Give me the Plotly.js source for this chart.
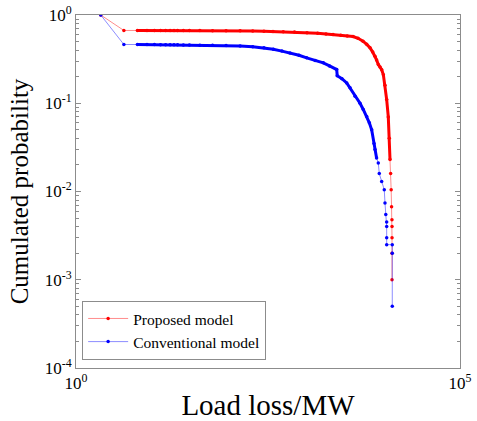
<!DOCTYPE html>
<html>
<head>
<meta charset="utf-8">
<script src="https://cdn.plot.ly/plotly-3.0.1.min.js"></script>
<style>html,body{margin:0;padding:0;background:#fff;}#chart{width:477px;height:421px;}</style>
</head>
<body>
<div id="chart"></div>
<script>
// Load loss (MW) and cumulated probability
const proposedLoss = [2.1, 4.2, 6.3, 8.4, 10.5, 12.6, 14.7, 16.8, 18.9, 21, 25, 30, 41, 60, 90, 137, 200, 280, 367, 500, 700, 1018, 1400, 1800, 2220, 2800, 3400, 4050, 4700, 5460, 6100, 6730, 7300, 7820, 8200, 8640, 9100, 9560, 10050, 10550, 11100, 11650, 12000, 12270, 12500, 12700, 12850, 13000, 13030, 13030, 13030, 13030];
const proposedProb = [1, 0.668, 0.668, 0.668, 0.668, 0.668, 0.668, 0.668, 0.667, 0.667, 0.667, 0.666, 0.666, 0.665, 0.664, 0.663, 0.66, 0.655, 0.65, 0.645, 0.64, 0.63, 0.62, 0.61, 0.6, 0.59, 0.58, 0.57, 0.545, 0.505, 0.465, 0.425, 0.38, 0.34, 0.31, 0.275, 0.258, 0.24, 0.21, 0.16, 0.11, 0.07, 0.04, 0.023, 0.016, 0.0105, 0.0067, 0.0048, 0.004, 0.003, 0.002, 0.001];
const conventionalLoss = [2.1, 4.2, 6.3, 8.4, 10.5, 12.6, 14.7, 16.8, 18.9, 21, 25, 30, 41, 60, 90, 137, 200, 280, 371, 480, 611, 800, 1009, 1300, 1660, 2000, 2480, 2520, 2900, 3350, 3700, 4300, 4990, 5500, 6100, 6600, 7080, 7590, 7820, 8200, 8630, 8890, 9550, 10330, 10550, 10800, 11100, 11100, 11100, 11100, 13130, 13130, 13130];
const conventionalProb = [1, 0.463, 0.463, 0.462, 0.462, 0.461, 0.461, 0.46, 0.46, 0.459, 0.458, 0.457, 0.455, 0.453, 0.45, 0.445, 0.437, 0.425, 0.41, 0.39, 0.372, 0.35, 0.327, 0.305, 0.287, 0.265, 0.241, 0.205, 0.19, 0.17, 0.15, 0.12, 0.1, 0.085, 0.071, 0.06, 0.05, 0.035, 0.03, 0.024, 0.021, 0.016, 0.013, 0.0105, 0.0074, 0.0055, 0.0045, 0.004, 0.003, 0.0025, 0.0025, 0.002, 0.0005];
const xTickVals = [1, 100000];
const xTickText = ['10<sup>0</sup>', '10<sup>5</sup>'];
const yTickVals = [1e-4, 1e-3, 1e-2, 1e-1, 1];
const yTickText = ['10<sup>-4</sup>', '10<sup>-3</sup>', '10<sup>-2</sup>', '10<sup>-1</sup>', '10<sup>0</sup>'];
const yMinorVals = [];
[1e-4, 1e-3, 1e-2, 1e-1].forEach(d => { for (let m = 2; m <= 9; m++) yMinorVals.push(m * d); });

const serif = "'Liberation Serif', 'Times New Roman', serif";
const red = '#ff0000', blue = '#0000ff';
const axisGray = '#8c8c8c';

const traces = [
  {x: proposedLoss, y: proposedProb, name: 'Proposed model', type: 'scatter', mode: 'lines+markers',
   line: {color: 'rgba(255,0,0,0.45)', width: 1}, marker: {color: red, size: 3.5}},
  {x: proposedLoss.slice(2, 44), y: proposedProb.slice(2, 44), showlegend: false, type: 'scatter', mode: 'lines',
   line: {color: red, width: 3}, hoverinfo: 'skip'},
  {x: conventionalLoss, y: conventionalProb, name: 'Conventional model', type: 'scatter', mode: 'lines+markers',
   line: {color: 'rgba(0,0,255,0.45)', width: 1}, marker: {color: blue, size: 3.5}},
  {x: conventionalLoss.slice(2, 40), y: conventionalProb.slice(2, 40), showlegend: false, type: 'scatter', mode: 'lines',
   line: {color: blue, width: 3}, hoverinfo: 'skip'}
];

const layout = {
  width: 477, height: 421,
  margin: {l: 76, r: 17, t: 15, b: 53},
  paper_bgcolor: '#fff', plot_bgcolor: '#fff',
  showlegend: true,
  xaxis: {
    type: 'log', range: [0, 5], showgrid: false, zeroline: false,
    showline: true, linecolor: axisGray, linewidth: 1, mirror: true,
    tickvals: xTickVals, ticktext: xTickText, ticks: '',
    tickfont: {family: serif, size: 17, color: '#000'},
    title: {text: 'Load loss/MW', font: {family: serif, size: 29, color: '#000'}, standoff: 6}
  },
  yaxis: {
    type: 'log', range: [-4, 0], showgrid: false, zeroline: false,
    showline: true, linecolor: axisGray, linewidth: 1, mirror: 'ticks',
    tickvals: yTickVals, ticktext: yTickText, ticks: 'inside', tickcolor: axisGray, ticklen: 5,
    minor: {tickmode: 'array', tickvals: yMinorVals, ticks: 'inside', ticklen: 3, tickcolor: axisGray, showgrid: false},
    tickfont: {family: serif, size: 17, color: '#000'},
    title: {text: 'Cumulated probability', font: {family: serif, size: 25, color: '#000'}, standoff: 8}
  },
  legend: {
    x: 0.016, y: 0.023, xanchor: 'left', yanchor: 'bottom',
    bgcolor: '#fff', bordercolor: axisGray, borderwidth: 1,
    font: {family: serif, size: 15.5, color: '#000'},
    tracegroupgap: 0, itemwidth: 40
  }
};

Plotly.newPlot('chart', traces, layout, {staticPlot: true, displayModeBar: false});
</script>
</body>
</html>
